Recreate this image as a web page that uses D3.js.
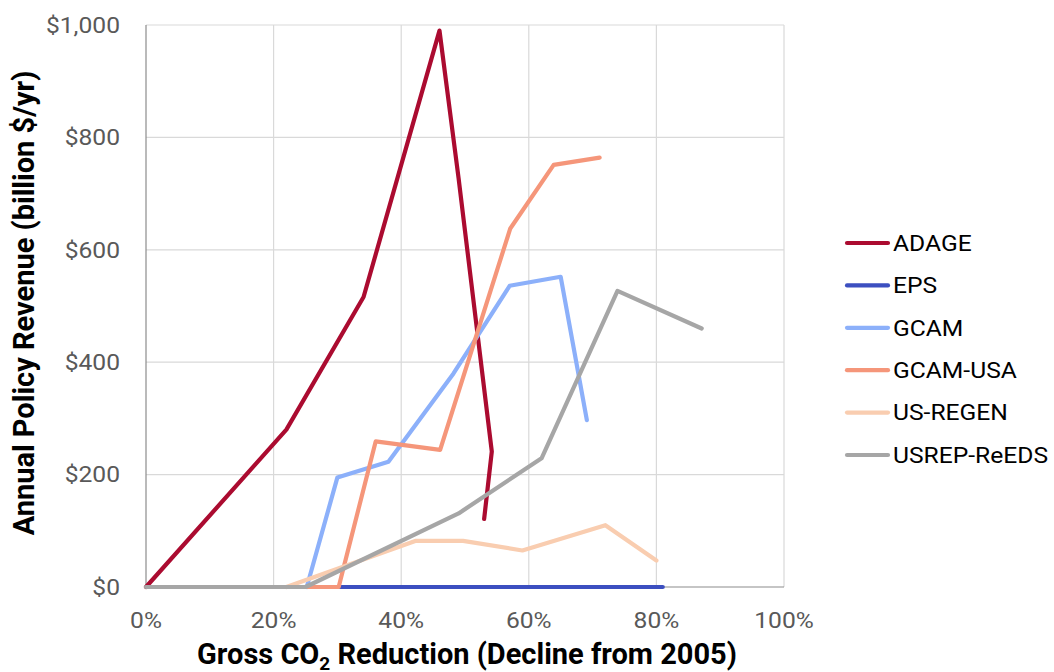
<!DOCTYPE html>
<html><head><meta charset="utf-8">
<script src="https://cdn.jsdelivr.net/npm/d3@7"></script>
<style>
body{margin:0;background:#fff;}
svg{display:block;font-family:Roboto,"Noto Sans",sans-serif;}
</style></head>
<body><svg id="c" width="1054" height="672"></svg>
<script>
const seriesNames = ["ADAGE","EPS","GCAM","GCAM-USA","US-REGEN","USREP-ReEDS"];
const seriesColors = ["#ab0b30","#3c4fc0","#8cb0fa","#f5967a","#f9cdb0","#a6a6a6"];
// x: gross CO2 reduction (%), y: revenue (billion $/yr)
const adageX = [0, 22, 34.1, 46.0, 49.0, 54.2, 53.0];
const adageY = [0, 280, 516, 990, 727, 241, 121];
const epsX = [30, 40, 50, 60, 70, 81];
const epsY = [0, 0, 0, 0, 0, 0];
const gcamX = [25.2, 30.0, 38.0, 48.2, 57.0, 65.0, 69.1];
const gcamY = [0, 195, 223, 380, 536, 552, 297];
const gcamUsaX = [25.2, 30.2, 36.0, 46.1, 57.1, 63.9, 71.1];
const gcamUsaY = [0, 0, 259, 244, 638, 751, 764];
const usRegenX = [22, 42.2, 49.7, 59.0, 72.0, 80.0];
const usRegenY = [0, 82, 82, 65, 110, 47];
const usrepX = [0, 25, 49.0, 62.0, 73.9, 87.1];
const usrepY = [0, 0, 131, 229, 527, 460];
const xTicks = [0, 20, 40, 60, 80, 100];
const yTicks = [0, 200, 400, 600, 800, 1000];

const allX = [adageX, epsX, gcamX, gcamUsaX, usRegenX, usrepX];
const allY = [adageY, epsY, gcamY, gcamUsaY, usRegenY, usrepY];

const svg = d3.select("#c");
const L = 146, R = 784, T = 25, B = 587;
const x = d3.scaleLinear().domain([0, 100]).range([L, R]);
const y = d3.scaleLinear().domain([0, 1000]).range([B, T]);
const SX = 1.12;

// grid
const g = svg.append("g");
g.selectAll(".vg").data(xTicks.slice(1)).join("line")
  .attr("x1", d => x(d)).attr("x2", d => x(d)).attr("y1", T).attr("y2", B)
  .attr("stroke", "#d9d9d9").attr("stroke-width", 1.2);
g.selectAll(".hg").data(yTicks.slice(1)).join("line")
  .attr("x1", L).attr("x2", R).attr("y1", d => y(d)).attr("y2", d => y(d))
  .attr("stroke", "#d9d9d9").attr("stroke-width", 1.2);

// axes lines
svg.append("line").attr("x1", L).attr("x2", L).attr("y1", T).attr("y2", B).attr("stroke", "#8c8c8c").attr("stroke-width", 1.2);
svg.append("line").attr("x1", L).attr("x2", R).attr("y1", B).attr("y2", B).attr("stroke", "#8c8c8c").attr("stroke-width", 1.2);

// tick labels
svg.selectAll(".yt").data(yTicks).join("text")
  .attr("transform", d => `translate(120,${y(d)}) scale(${SX},1)`).attr("dy", "0.35em")
  .attr("text-anchor", "end").attr("font-size", 22).attr("fill", "#595959")
  .text(d => "$" + d3.format(",")(d));
svg.selectAll(".xt").data(xTicks).join("text")
  .attr("transform", d => `translate(${x(d)},628) scale(${SX},1)`)
  .attr("text-anchor", "middle").attr("font-size", 22).attr("fill", "#595959")
  .text(d => d + "%");

// axis titles
svg.append("text").attr("transform", "translate(34,303) rotate(-90)")
  .attr("text-anchor", "middle").attr("font-size", 29).attr("font-weight", "bold").attr("fill", "#000")
  .text("Annual Policy Revenue (billion $/yr)");
const xt = svg.append("text").attr("x", 467).attr("y", 664)
  .attr("text-anchor", "middle").attr("font-size", 29).attr("font-weight", "bold").attr("fill", "#000");
xt.append("tspan").text("Gross CO");
xt.append("tspan").attr("font-size", 19).attr("dy", 6).text("2");
xt.append("tspan").attr("dy", -6).text(" Reduction (Decline from 2005)");

// lines
const line = d3.line().x(d => x(d[0])).y(d => y(d[1]));
seriesNames.forEach((name, i) => {
  const pts = allX[i].map((v, j) => [v, allY[i][j]]);
  svg.append("path").datum(pts).attr("d", line)
    .attr("fill", "none").attr("stroke", seriesColors[i]).attr("stroke-width", 4.2)
    .attr("stroke-linecap", "round").attr("stroke-linejoin", "round");
});

// legend
const lg = svg.append("g");
seriesNames.forEach((name, i) => {
  const yy = 243 + i * 42.4;
  lg.append("line").attr("x1", 847).attr("x2", 888).attr("y1", yy).attr("y2", yy)
    .attr("stroke", seriesColors[i]).attr("stroke-width", 4.2).attr("stroke-linecap", "round");
  lg.append("text").attr("transform", `translate(893,${yy}) scale(${SX},1)`).attr("dy", "0.35em")
    .attr("font-size", 22).attr("fill", "#000").text(name);
});
</script></body></html>
